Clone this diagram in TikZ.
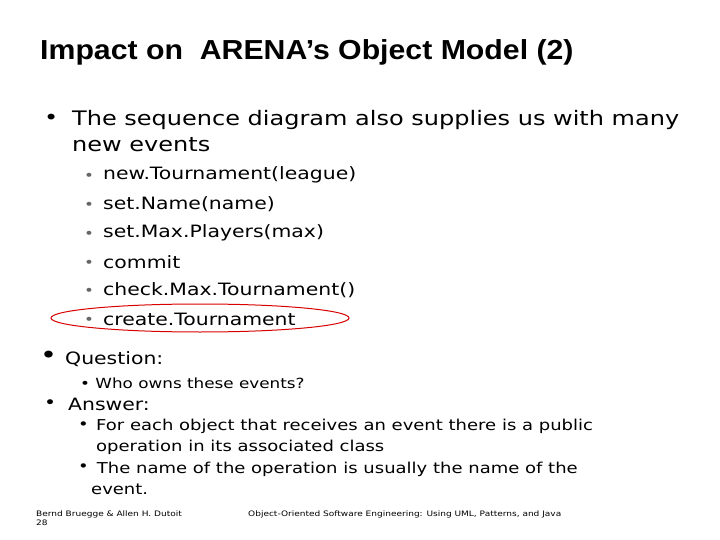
\documentclass[tikz,border=0pt]{standalone}
\usepackage{fontspec}
\setmainfont{DejaVu Sans}[FakeStretch=1.2]
\newfontfamily\titlefont{Liberation Sans}[FakeStretch=1.1]
\begin{document}
\begin{tikzpicture}[x=1pt,y=-1pt,
  t/.style={anchor=west,inner sep=0pt},
  ti/.style={t,font=\titlefont\bfseries\fontsize{27.5}{30}\selectfont},
  l1/.style={t,font=\fontsize{20}{26}\selectfont},
  l2/.style={t,font=\fontsize{17}{20}\selectfont},
  l3/.style={t,font=\fontsize{15}{21}\selectfont},
  sb/.style={t,font=\fontsize{14}{14}\selectfont,text=black!60},
  ft/.style={t,font=\fontsize{7.5}{9}\selectfont,align=left}]
\useasboundingbox (0,0) rectangle (720,540);
\node[ti] (title) at (40,52) {Impact on\ \ ARENA’s Object Model (2)};
\node[l1] (b0d) at (44,119) {•};
\node[l1,align=left] (b0) at (72,131) {The sequence diagram also supplies us with many\\new events};
\foreach \y/\s [count=\i] in {175/new.Tournament(league),204/set.Name(name),233/set.Max.Players(max),262/commit,290/check.Max.Tournament(),319/create.Tournament}{
  \node[sb] (d\i) at (84,\y+2) {•};
  \node[l2] (s\i) at (103,\y) {\s};
}
\draw[red!85!black,line width=1pt] (200,318) ellipse [x radius=149,y radius=14];
\node[t,font=\fontsize{24}{24}\selectfont] (qd) at (40,357) {•};
\node[l2] (q) at (65,359) {Question:};
\node[t,font=\fontsize{14}{16}\selectfont] (qa) at (80,383) {• Who owns these events?};
\node[l2] (ad) at (44,404) {•};
\node[l2] (a) at (68,404) {Answer:};
\node[l3] (a1d) at (78,426) {•};
\node[l3,align=left] (a1) at (96,437) {For each object that receives an event there is a public\\operation in its associated class};
\node[l3] (a2d) at (78,468) {•};
\node[l3,align=left] (a2) at (91,478) {\ The name of the operation is usually the name of the\\event.};
\node[ft] (f1) at (36,518) {Bernd Bruegge \& Allen H. Dutoit\\28};
\node[ft] (f2) at (248,514) {Object-Oriented Software Engineering: Using UML, Patterns, and Java};
\end{tikzpicture}
\end{document}
